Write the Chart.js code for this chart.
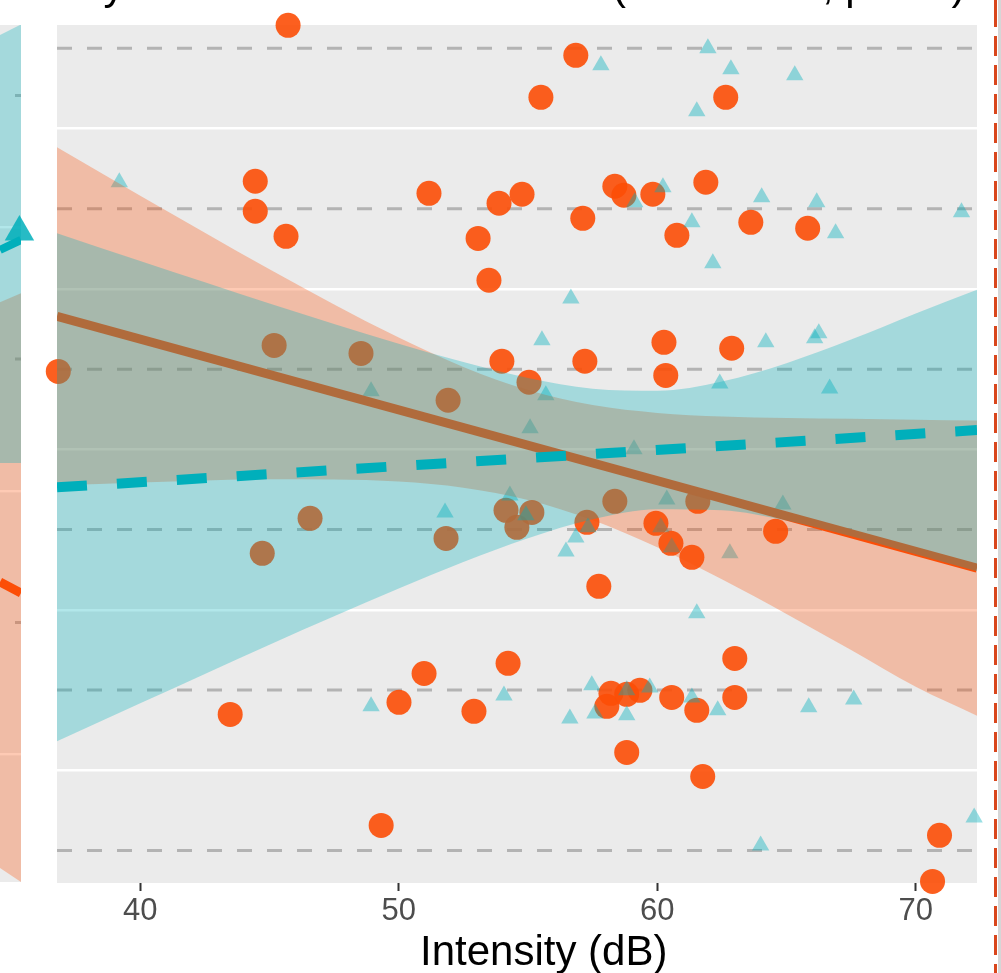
<!DOCTYPE html>
<html>
<head>
<meta charset="utf-8">
<script src="https://cdn.jsdelivr.net/npm/chart.js@4.4.0/dist/chart.umd.min.js"></script>
<style>
  html, body { margin: 0; padding: 0; background: #fff; }
  body { width: 1001px; height: 973px; position: relative; overflow: hidden; font-family: 'Liberation Sans', Arial, sans-serif; }
  canvas { position: absolute; left: 0; top: 0; }
  .title { position: absolute; top: -39px; font-size: 42px; line-height: 48px; white-space: nowrap; color: #000; }
  #xtitle { position: absolute; left: 420px; top: 927px; font-size: 42px; line-height: 48px; white-space: nowrap; color: #000; }
  #sep { position: absolute; left: 994px; top: 0; width: 3px; height: 973px;
         background: repeating-linear-gradient(to bottom, #D9461C 0 20px, transparent 20px 29px); background-position: 0 7px; }
  #edge { position: absolute; left: 998px; top: 0; width: 3px; height: 973px; background: #D6D6D6; }
</style>
</head>
<body>
<canvas id="main" width="1001" height="973"></canvas>
<canvas id="side" width="40" height="973"></canvas>
<div class="title" style="left:-32px">Intensity and Emotional Valence</div>
<div class="title" style="left:612px">(r = -0.18</div>
<div class="title" style="left:822px">, p = .1)</div>
<div id="xtitle">Intensity (dB)</div>
<div id="sep"></div>
<div id="edge"></div>
<script>
// x axis (dB)
const xMin = 36.78, xMax = 72.37;
const xTicks = [40, 50, 60, 70];
const yMin = 0.797, yMax = 6.145;
const levels = [1, 2, 3, 4, 5, 6];
const yGrid = [1.5, 2.5, 3.5, 4.5, 5.5];

// orange circles
const orangeX = [45.72, 56.85, 55.50, 62.65, 44.45, 44.45, 45.64, 51.17, 53.88, 54.77,
  58.36, 58.71, 59.83, 61.88, 57.12, 53.07, 53.49, 60.76, 63.62, 65.82,
  45.18, 48.54, 36.83, 51.91, 53.99, 55.04, 57.20, 60.26, 60.33, 62.88,
  46.57, 44.72, 51.83, 54.15, 55.15, 54.57, 57.28, 58.36, 61.57, 59.95,
  60.53, 61.34, 64.58, 57.74, 43.48, 50.01, 50.98, 52.91, 54.23, 58.05,
  58.21, 58.82, 59.33, 60.56, 61.53, 63.00, 63.00, 58.82, 61.76, 49.32,
  70.92, 70.65];
const orangeY = [6.143, 5.956, 5.694, 5.694, 5.171, 4.984, 4.828, 5.096, 5.034, 5.090,
  5.140, 5.084, 5.090, 5.165, 4.940, 4.815, 4.554, 4.834, 4.915, 4.878,
  4.148, 4.098, 3.986, 3.806, 4.049, 3.918, 4.049, 4.167, 3.961, 4.130,
  3.070, 2.852, 2.945, 3.120, 3.107, 3.014, 3.045, 3.176, 3.176, 3.039,
  2.914, 2.827, 2.989, 2.646, 1.848, 1.923, 2.103, 1.867, 2.166, 1.898,
  1.979, 1.973, 1.998, 1.954, 1.873, 2.197, 1.954, 1.611, 1.461, 1.156,
  1.094, 0.807];

// teal triangles
const tealX = [57.82, 61.96, 62.85, 65.32, 61.53, 39.19, 60.22, 59.13, 61.34, 64.04,
  66.17, 66.90, 71.77, 62.15, 56.66, 55.54, 64.20, 66.09, 66.25, 62.42,
  66.67, 48.93, 55.69, 55.08, 59.10, 54.30, 51.79, 54.92, 57.32, 56.85,
  56.47, 60.37, 60.14, 60.56, 62.81, 64.86, 61.53, 48.93, 54.07, 56.62,
  57.47, 57.59, 58.82, 58.82, 59.71, 61.34, 62.34, 65.86, 67.60, 64.00,
  72.26];
const tealY = [5.894, 6.000, 5.869, 5.832, 5.607, 5.165, 5.133, 5.040, 4.915, 5.071,
  5.040, 4.847, 4.978, 4.660, 4.441, 4.180, 4.167, 4.192, 4.223, 3.911,
  3.880, 3.862, 3.837, 3.631, 3.500, 3.213, 3.107, 3.089, 3.014, 2.951,
  2.864, 3.188, 3.014, 2.889, 2.852, 3.157, 2.478, 1.898, 1.966, 1.823,
  2.029, 1.854, 1.842, 1.998, 2.016, 1.954, 1.873, 1.892, 1.941, 1.031,
  1.206];

// fitted lines and confidence bands
const fitX = [36.78, 72.37];
const orangeFit = [4.329, 2.76];
const tealFit = [3.263, 3.62];
const bandX = [36.78, 40, 42.5, 45, 47.5, 50, 52.5, 55, 57.5, 60, 62.5, 65, 67.5, 70, 72.37];
const orangeUpper = [5.383, 5.081, 4.850, 4.622, 4.403, 4.197, 4.014, 3.870, 3.776, 3.727, 3.705, 3.695, 3.690, 3.685, 3.680];
const orangeLower = [3.276, 3.294, 3.306, 3.313, 3.312, 3.299, 3.261, 3.185, 3.059, 2.889, 2.690, 2.474, 2.249, 2.020, 1.840];
const tealUpper = [4.847, 4.674, 4.541, 4.409, 4.281, 4.158, 4.044, 3.945, 3.878, 3.865, 3.923, 4.037, 4.184, 4.347, 4.495];
const tealLower = [1.680, 1.917, 2.100, 2.282, 2.459, 2.633, 2.798, 2.946, 3.064, 3.127, 3.120, 3.056, 2.958, 2.846, 2.740];

// neighbouring panel (only its right edge is in view)
const sideX = [71.56, 72.37];
const sideYMin = 1.015, sideYMax = 4.268;
const sideLevels = [2, 3, 4];
const sideGrid = [1.5, 2.5, 3.5];
const sideTealUpper = [4.23, 4.27];
const sideTealLower = [2.605, 2.605];
const sideOrangeUpper = [3.216, 3.25];
const sideOrangeLower = [1.068, 1.015];
const sideTealFit = [3.414, 3.452];
const sideOrangeFit = [2.154, 2.112];
const sidePointX = [72.31];
const sidePointY = [3.482];

const ORANGE = '#FC4E07';
const TEAL = '#00AFBB';
const NONE = 'rgba(0,0,0,0)';

const pts = (xs, ys) => xs.map((x, i) => ({ x: x, y: ys[i] }));
const hlines = (lv, xs) => lv.flatMap(v => [{ x: xs[0], y: v }, { x: xs[xs.length - 1], y: v }, { x: xs[xs.length - 1], y: null }]);

const panelBg = {
  id: 'panelBg',
  beforeDraw(chart) {
    const { ctx, chartArea: a } = chart;
    ctx.save();
    ctx.fillStyle = '#EBEBEB';
    ctx.fillRect(a.left, a.top, a.right - a.left, a.bottom - a.top);
    ctx.restore();
  }
};

const band = (xs, ys, color, order, fill) => ({
  type: 'line', data: pts(xs, ys), borderColor: NONE, borderWidth: 0, pointRadius: 0,
  backgroundColor: color, fill: fill, cubicInterpolationMode: 'monotone', order: order
});

const layers = (o) => [
  { type: 'line', data: hlines(o.levels, o.x), borderColor: '#B3B3B3', borderWidth: 3, borderDash: [15, 15],
    borderDashOffset: o.dashOffset, pointRadius: 0, spanGaps: false, order: 10 },
  ...o.points,
  band(o.bandX, o.oUp, 'rgba(252,78,7,0.3)', 7, '+1'),
  band(o.bandX, o.oLo, NONE, 7, false),
  { type: 'line', data: pts(o.x, o.oFit), borderColor: ORANGE, borderWidth: 9, pointRadius: 0, order: 5 },
  band(o.bandX, o.tUp, 'rgba(0,175,187,0.3)', 4, '+1'),
  band(o.bandX, o.tLo, NONE, 4, false),
  { type: 'line', data: pts(o.x, o.tFit), borderColor: TEAL, borderWidth: o.tWidth, borderDash: o.tDash,
    borderCapStyle: 'butt', pointRadius: 0, order: 2 }
];

new Chart(document.getElementById('main'), {
  type: 'scatter',
  data: {
    datasets: layers({
      levels: levels, x: fitX, dashOffset: 0, bandX: bandX,
      oUp: orangeUpper, oLo: orangeLower, oFit: orangeFit,
      tUp: tealUpper, tLo: tealLower, tFit: tealFit, tWidth: 10, tDash: [30, 30],
      points: [
        { data: pts(orangeX, orangeY), pointStyle: 'circle', pointRadius: 12.5, backgroundColor: 'rgba(252,78,7,0.9)',
          borderWidth: 0, clip: false, order: 9 },
        { data: pts(tealX, tealY), pointStyle: 'triangle', pointRadius: 10, backgroundColor: 'rgba(0,175,187,0.4)',
          borderWidth: 0, clip: false, order: 8 }
      ]
    })
  },
  options: {
    responsive: false, animation: false, devicePixelRatio: 1,
    layout: { autoPadding: false, padding: { left: 57, right: 24, top: 25, bottom: 0 } },
    plugins: { legend: { display: false }, tooltip: { enabled: false } },
    scales: {
      x: {
        type: 'linear', min: xMin, max: xMax,
        afterBuildTicks: (s) => { s.ticks = xTicks.map(v => ({ value: v })); },
        afterFit: (s) => { s.height = 90; },
        border: { display: false },
        grid: { drawOnChartArea: false, drawTicks: true, tickLength: 8, tickWidth: 2, tickColor: '#333333' },
        ticks: { color: '#4D4D4D', font: { family: 'Liberation Sans', size: 31 }, padding: 2 }
      },
      y: {
        type: 'linear', min: yMin, max: yMax,
        afterBuildTicks: (s) => { s.ticks = yGrid.map(v => ({ value: v })); },
        afterFit: (s) => { s.width = 0; },
        border: { display: false },
        grid: { color: '#FFFFFF', lineWidth: 2.4, drawTicks: false },
        ticks: { display: false }
      }
    }
  },
  plugins: [panelBg]
});

new Chart(document.getElementById('side'), {
  type: 'scatter',
  data: {
    datasets: layers({
      levels: sideLevels, x: sideX, dashOffset: 15, bandX: sideX,
      oUp: sideOrangeUpper, oLo: sideOrangeLower, oFit: sideOrangeFit,
      tUp: sideTealUpper, tLo: sideTealLower, tFit: sideTealFit, tWidth: 8, tDash: [],
      points: [
        { data: pts(sidePointX, sidePointY), pointStyle: 'triangle', pointRadius: 17, backgroundColor: 'rgba(0,175,187,0.85)',
          borderWidth: 0, clip: false, order: 8 }
      ]
    })
  },
  options: {
    responsive: false, animation: false, devicePixelRatio: 1,
    layout: { autoPadding: false, padding: { left: 0, right: 19, top: 25, bottom: 91 } },
    plugins: { legend: { display: false }, tooltip: { enabled: false } },
    scales: {
      x: { type: 'linear', min: sideX[0], max: sideX[1], display: false },
      y: {
        type: 'linear', min: sideYMin, max: sideYMax,
        afterBuildTicks: (s) => { s.ticks = sideGrid.map(v => ({ value: v })); },
        afterFit: (s) => { s.width = 0; },
        border: { display: false },
        grid: { color: '#FFFFFF', lineWidth: 2.4, drawTicks: false },
        ticks: { display: false }
      }
    }
  },
  plugins: [panelBg]
});
</script>
</body>
</html>
